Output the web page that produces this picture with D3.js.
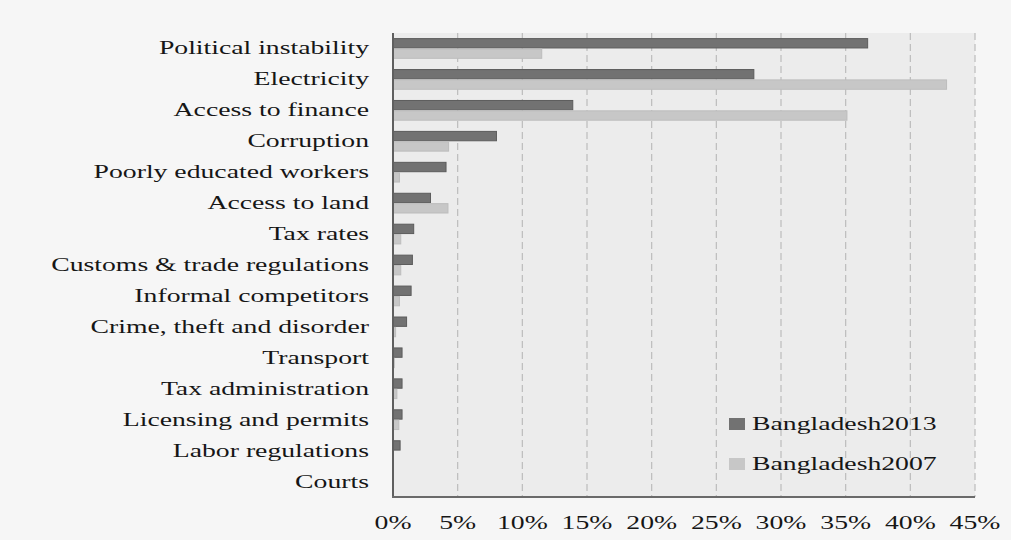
<!DOCTYPE html>
<html>
<head>
<meta charset="utf-8">
<script src="https://cdn.jsdelivr.net/npm/d3@7"></script>
<style>
  html, body { margin: 0; padding: 0; background: #f6f6f6; }
  svg { display: block; }
  text { font-family: "Liberation Serif", "Times New Roman", serif; fill: #161616; }
</style>
</head>
<body>
<svg id="chart" width="1011" height="540"></svg>
<script>
// Obstacles to doing business, share of firms
const categories = [
  "Political instability", "Electricity", "Access to finance", "Corruption",
  "Poorly educated workers", "Access to land", "Tax rates",
  "Customs & trade regulations", "Informal competitors",
  "Crime, theft and disorder", "Transport", "Tax administration",
  "Licensing and permits", "Labor regulations", "Courts"
];
const seriesNames = ["Bangladesh2013", "Bangladesh2007"];
const values2013 = [36.7, 27.9, 13.9, 8.0, 4.1, 2.9, 1.6, 1.5, 1.4, 1.05, 0.7, 0.7, 0.7, 0.55, 0];
const values2007 = [11.5, 42.8, 35.1, 4.3, 0.5, 4.25, 0.6, 0.6, 0.5, 0.2, 0.1, 0.3, 0.45, 0, 0];
const xTicks = [0, 5, 10, 15, 20, 25, 30, 35, 40, 45];

const seriesValues = [values2013, values2007];
const fills = ["#727272", "#c7c7c7"];
const strokes = ["#5c5c5c", "#bdbdbd"];
const sx = 1.54; // horizontal stretch of the serif type

const svg = d3.select("#chart");
const plot = { left: 393, right: 975, top: 33, bottom: 497 };

const x = d3.scaleLinear().domain([0, 45]).range([plot.left, plot.right]);
const y = d3.scaleBand().domain(categories).range([plot.top, plot.bottom])
  .paddingInner(0.33).paddingOuter(0.165);
const ySub = d3.scaleBand().domain(seriesNames).range([0, y.bandwidth()]).padding(0);

// plot background
svg.append("rect")
  .attr("x", plot.left).attr("y", plot.top)
  .attr("width", plot.right - plot.left).attr("height", plot.bottom - plot.top)
  .attr("fill", "#ececec");

// dashed vertical gridlines
svg.append("g")
  .selectAll("line")
  .data(xTicks.filter(d => d > 0))
  .join("line")
  .attr("x1", d => x(d)).attr("x2", d => x(d))
  .attr("y1", plot.top).attr("y2", plot.bottom)
  .attr("stroke", "#bcbcbc").attr("stroke-width", 1.2)
  .attr("stroke-dasharray", "7,4");

// bars
const groups = svg.append("g")
  .selectAll("g")
  .data(categories)
  .join("g")
  .attr("transform", c => `translate(0,${y(c)})`);

groups.selectAll("rect")
  .data((c, i) => seriesNames.map((s, k) => ({ s, k, v: seriesValues[k][i] })))
  .join("rect")
  .filter(d => d.v > 0)
  .attr("x", x(0))
  .attr("y", d => ySub(d.s) + 0.5)
  .attr("width", d => x(d.v) - x(0))
  .attr("height", ySub.bandwidth() - 1)
  .attr("fill", d => fills[d.k])
  .attr("stroke", d => strokes[d.k])
  .attr("stroke-width", 1);

// axis lines
svg.append("line")
  .attr("x1", plot.left).attr("x2", plot.left)
  .attr("y1", plot.top).attr("y2", plot.bottom)
  .attr("stroke", "#5f5f5f").attr("stroke-width", 2);
svg.append("line")
  .attr("x1", plot.left - 1).attr("x2", plot.right)
  .attr("y1", plot.bottom).attr("y2", plot.bottom)
  .attr("stroke", "#6a6a6a").attr("stroke-width", 2);

// category labels
svg.append("g")
  .selectAll("text")
  .data(categories)
  .join("text")
  .attr("transform", c => `translate(369,${y(c) + y.bandwidth() / 2 + 6}) scale(${sx},1)`)
  .attr("text-anchor", "end")
  .attr("font-size", 18)
  .text(c => c);

// x tick labels
svg.append("g")
  .selectAll("text")
  .data(xTicks)
  .join("text")
  .attr("transform", d => `translate(${x(d)},529) scale(${sx},1)`)
  .attr("text-anchor", "middle")
  .attr("font-size", 18)
  .text(d => d + "%");

// legend
const legend = svg.append("g")
  .selectAll("g")
  .data(seriesNames)
  .join("g")
  .attr("transform", (d, i) => `translate(729,${418 + i * 40})`);
legend.append("rect")
  .attr("width", 16).attr("height", 12)
  .attr("fill", (d, i) => fills[i]);
legend.append("text")
  .attr("transform", `translate(23,12) scale(${sx},1)`)
  .attr("font-size", 18)
  .text(d => d);
</script>
</body>
</html>
